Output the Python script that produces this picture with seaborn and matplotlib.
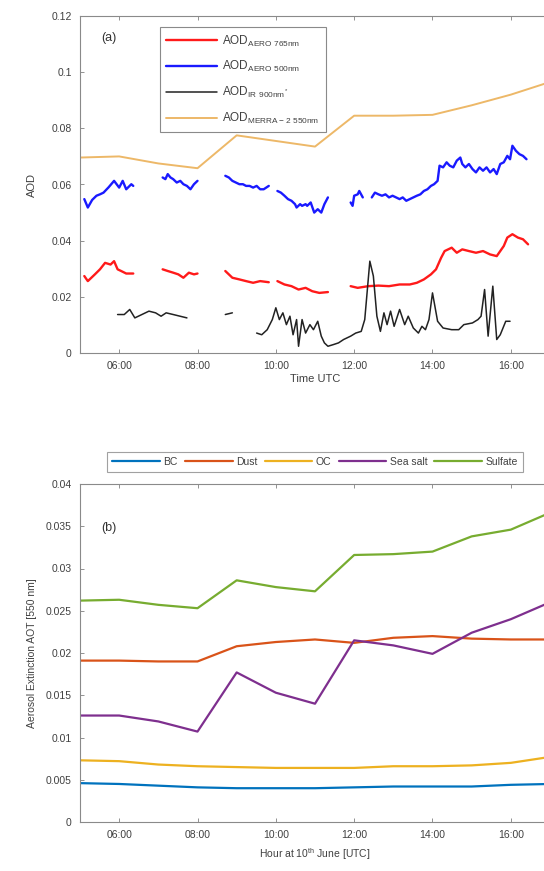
import numpy as np
import pandas as pd
import matplotlib
matplotlib.use("Agg")
import matplotlib.pyplot as plt
import seaborn as sns

# ---- panel (a): AOD time series, None marks a gap in the record ----
aero765_t = [5.11, 5.20, 5.29, 5.38, 5.51, 5.64, 5.78, 5.87, 5.96, 6.05, 6.18, 6.36, None,
             7.11, 7.24, 7.38, 7.51, 7.64, 7.78, 7.91, 8.00, None,
             8.71, 8.89, 9.07, 9.24, 9.42, 9.60, 9.82, None,
             10.04, 10.22, 10.40, 10.58, 10.76, 10.93, 11.11, 11.33, None,
             11.91, 12.09, 12.36, 12.62, 12.89, 13.16, 13.42, 13.60, 13.78, 13.96, 14.09, 14.22,
             14.31, 14.49, 14.62, 14.76, 14.93, 15.11, 15.29, 15.47, 15.64, 15.82, 15.91, 16.04,
             16.18, 16.31, 16.44]
aero765_v = [0.0274, 0.0256, 0.0268, 0.0280, 0.0298, 0.0321, 0.0315, 0.0327, 0.0298, 0.0292, 0.0283, 0.0283, None,
             0.0298, 0.0292, 0.0286, 0.0280, 0.0268, 0.0286, 0.0280, 0.0283, None,
             0.0292, 0.0268, 0.0262, 0.0256, 0.0250, 0.0256, 0.0252, None,
             0.0256, 0.0244, 0.0238, 0.0226, 0.0232, 0.0220, 0.0214, 0.0217, None,
             0.0238, 0.0232, 0.0238, 0.0240, 0.0238, 0.0244, 0.0244, 0.0250, 0.0262, 0.0280, 0.0298, 0.0339,
             0.0363, 0.0375, 0.0357, 0.0369, 0.0363, 0.0357, 0.0363, 0.0351, 0.0345, 0.0381, 0.0411, 0.0423,
             0.0411, 0.0405, 0.0387]

aero500_t = [5.11, 5.20, 5.31, 5.42, 5.51, 5.60, 5.73, 5.87, 6.00, 6.09, 6.18, 6.31, 6.36, None,
             7.11, 7.18, 7.24, 7.31, 7.38, 7.47, 7.56, 7.64, 7.73, 7.82, 7.91, 8.00, None,
             8.71, 8.80, 8.89, 8.98, 9.07, 9.16, 9.24, 9.33, 9.42, 9.51, 9.60, 9.69, 9.82, None,
             10.04, 10.13, 10.22, 10.31, 10.40, 10.49, 10.53, 10.62, 10.67, 10.76, 10.80, 10.89,
             10.98, 11.07, 11.16, 11.24, 11.33, None,
             11.91, 11.96, 12.00, 12.09, 12.13, 12.22, None,
             12.45, 12.53, 12.62, 12.71, 12.80, 12.89, 12.98, 13.07, 13.16, 13.24, 13.33, 13.42,
             13.51, 13.60, 13.69, 13.78, 13.87, 13.96, 14.04, 14.13, 14.18, 14.27, 14.36, 14.44,
             14.53, 14.62, 14.71, 14.76, 14.84, 14.93, 15.02, 15.11, 15.20, 15.29, 15.38, 15.47,
             15.56, 15.64, 15.73, 15.82, 15.91, 15.98, 16.04, 16.13, 16.22, 16.31, 16.40]
aero500_v = [0.0548, 0.0518, 0.0545, 0.0560, 0.0565, 0.0571, 0.0590, 0.0613, 0.0589, 0.0613, 0.0583, 0.0601, 0.0595, None,
             0.0625, 0.0619, 0.0637, 0.0625, 0.0619, 0.0607, 0.0613, 0.0601, 0.0595, 0.0583, 0.0601, 0.0613, None,
             0.0631, 0.0625, 0.0613, 0.0607, 0.0601, 0.0601, 0.0595, 0.0595, 0.0589, 0.0595, 0.0583, 0.0583, 0.0595, None,
             0.0577, 0.0571, 0.0560, 0.0548, 0.0542, 0.0530, 0.0518, 0.0530, 0.0524, 0.0530, 0.0524, 0.0536,
             0.0500, 0.0512, 0.0500, 0.0530, 0.0554, None,
             0.0536, 0.0524, 0.0560, 0.0565, 0.0577, 0.0554, None,
             0.0554, 0.0571, 0.0565, 0.0560, 0.0565, 0.0554, 0.0560, 0.0554, 0.0548, 0.0554, 0.0542, 0.0548,
             0.0554, 0.0560, 0.0565, 0.0577, 0.0583, 0.0595, 0.0601, 0.0613, 0.0667, 0.0661, 0.0679, 0.0667,
             0.0661, 0.0685, 0.0696, 0.0673, 0.0661, 0.0673, 0.0655, 0.0643, 0.0661, 0.0649, 0.0661, 0.0643,
             0.0655, 0.0637, 0.0673, 0.0679, 0.0702, 0.0690, 0.0738, 0.0720, 0.0708, 0.0702, 0.0690]

ir900_t = [5.96, 6.13, 6.27, 6.40, 6.58, 6.76, 6.93, 7.07, 7.20, 7.38, 7.73, None,
           8.71, 8.89, None,
           9.51, 9.64, 9.78, 9.91, 10.00, 10.09, 10.18, 10.27, 10.36, 10.44, 10.53, 10.58, 10.67,
           10.76, 10.87, 10.96, 11.07, 11.16, 11.24, 11.33, 11.47, 11.60, 11.73, 11.91, 12.04,
           12.18, 12.27, 12.40, 12.49, 12.58, 12.67, 12.76, 12.84, 12.93, 13.02, 13.16, 13.29,
           13.38, 13.51, 13.64, 13.73, 13.82, 13.91, 14.00, 14.13, 14.27, 14.49, 14.67, 14.80,
           15.02, 15.16, 15.24, 15.33, 15.42, 15.54, 15.64, 15.73, 15.87, 15.98]
ir900_v = [0.0137, 0.0137, 0.0155, 0.0125, 0.0137, 0.0149, 0.0143, 0.0131, 0.0143, 0.0137, 0.0125, None,
           0.0137, 0.0143, None,
           0.0071, 0.0065, 0.0083, 0.0119, 0.0161, 0.0119, 0.0143, 0.0101, 0.0131, 0.0065, 0.0119, 0.0024, 0.0119,
           0.0071, 0.0101, 0.0083, 0.0113, 0.0060, 0.0036, 0.0024, 0.0030, 0.0036, 0.0048, 0.0060, 0.0071,
           0.0077, 0.0119, 0.0327, 0.0274, 0.0131, 0.0077, 0.0143, 0.0101, 0.0149, 0.0095, 0.0155, 0.0101,
           0.0131, 0.0089, 0.0071, 0.0095, 0.0083, 0.0119, 0.0214, 0.0113, 0.0089, 0.0083, 0.0083, 0.0101,
           0.0107, 0.0119, 0.0131, 0.0226, 0.0060, 0.0238, 0.0048, 0.0065, 0.0113, 0.0113]

merra_t = [5, 6, 7, 8, 9, 10, 11, 12, 13, 14, 15, 16, 17]
merra_v = [0.0696, 0.0700, 0.0675, 0.0658, 0.0775, 0.0755, 0.0735, 0.0845, 0.0845, 0.0848, 0.0882, 0.0920, 0.0965]

# ---- panel (b): MERRA-2 speciated AOT, hourly ----
hours = [5, 6, 7, 8, 9, 10, 11, 12, 13, 14, 15, 16, 17]
bc = [0.0046, 0.0045, 0.0043, 0.0041, 0.0040, 0.0040, 0.0040, 0.0041, 0.0042, 0.0042, 0.0042, 0.0044, 0.0045]
dust = [0.0191, 0.0191, 0.0190, 0.0190, 0.0208, 0.0213, 0.0216, 0.0212, 0.0218, 0.0220, 0.0217, 0.0216, 0.0216]
oc = [0.0073, 0.0072, 0.0068, 0.0066, 0.0065, 0.0064, 0.0064, 0.0064, 0.0066, 0.0066, 0.0067, 0.0070, 0.0077]
sea_salt = [0.0126, 0.0126, 0.0119, 0.0107, 0.0177, 0.0153, 0.0140, 0.0215, 0.0209, 0.0199, 0.0224, 0.0240, 0.0260]
sulfate = [0.0262, 0.0263, 0.0257, 0.0253, 0.0286, 0.0278, 0.0273, 0.0316, 0.0317, 0.0320, 0.0338, 0.0346, 0.0366]

hour_ticks = [6, 8, 10, 12, 14, 16]
hour_labels = ["06:00", "08:00", "10:00", "12:00", "14:00", "16:00"]
aod_ticks = [0, 0.02, 0.04, 0.06, 0.08, 0.1, 0.12]
aod_labels = ["0", "0.02", "0.04", "0.06", "0.08", "0.1", "0.12"]
aot_ticks = [0, 0.005, 0.01, 0.015, 0.02, 0.025, 0.03, 0.035, 0.04]
aot_labels = ["0", "0.005", "0.01", "0.015", "0.02", "0.025", "0.03", "0.035", "0.04"]


def to_frame(t, v, name):
    # split a None-separated list into segments
    rows = []
    seg = 0
    for ti, vi in zip(t, v):
        if ti is None:
            seg += 1
            continue
        rows.append((ti, vi, name, f"{name}-{seg}"))
    return pd.DataFrame(rows, columns=["time", "aod", "series", "seg"])


sns.set_theme(style="white")
plt.rcParams["font.family"] = ["Liberation Sans", "DejaVu Sans"]
plt.rcParams["mathtext.fontset"] = "custom"
plt.rcParams["mathtext.rm"] = "Liberation Sans"

lab_r = r"AOD$_{\mathrm{AERO\ 765nm}}$"
lab_b = r"AOD$_{\mathrm{AERO\ 500nm}}$"
lab_k = r"AOD$_{\mathrm{IR\ 900nm^*}}$"
lab_m = r"AOD$_{\mathrm{MERRA-2\ 550nm}}$"

df_a = pd.concat([
    to_frame(aero765_t, aero765_v, lab_r),
    to_frame(aero500_t, aero500_v, lab_b),
    to_frame(ir900_t, ir900_v, lab_k),
    to_frame(merra_t, merra_v, lab_m),
], ignore_index=True)

df_b = pd.DataFrame({"hour": hours, "BC": bc, "Dust": dust, "OC": oc,
                     "Sea salt": sea_salt, "Sulfate": sulfate})
df_b = df_b.melt(id_vars="hour", var_name="species", value_name="aot")

W, H = 544, 871
fig = plt.figure(figsize=(W / 100, H / 100), dpi=100)
ax1 = fig.add_axes([80 / W, 1 - 353 / H, 470 / W, 337 / H])
ax2 = fig.add_axes([80 / W, 1 - 822 / H, 470 / W, 338 / H])

pal_a = {lab_r: "#ff1a1a", lab_b: "#1a1aff", lab_k: "#222222", lab_m: "#EDB868"}
lw_a = {lab_r: 1.7, lab_b: 1.7, lab_k: 1.1, lab_m: 1.4}
for name in [lab_r, lab_b, lab_k, lab_m]:
    sub = df_a[df_a["series"] == name]
    sns.lineplot(data=sub, x="time", y="aod", units="seg", estimator=None,
                 color=pal_a[name], lw=lw_a[name], label=name, ax=ax1, sort=False)

pal_b = {"BC": "#0072BD", "Dust": "#D95319", "OC": "#EDB120",
         "Sea salt": "#7E2F8E", "Sulfate": "#77AC30"}
sns.lineplot(data=df_b, x="hour", y="aot", hue="species", palette=pal_b,
             lw=1.6, ax=ax2)

tick_col = "#404040"
for ax in (ax1, ax2):
    ax.set_xlim(5, 17)
    ax.set_xticks(hour_ticks)
    ax.set_xticklabels(hour_labels)
    ax.tick_params(axis="both", direction="in", length=3, width=0.6, color="#808080",
                   labelsize=7.5, labelcolor=tick_col, pad=6, top=True, bottom=True, left=True)
    for s in ax.spines.values():
        s.set_color("#8a8a8a")
        s.set_linewidth(0.8)

ax1.set_ylim(0, 0.12)
ax1.set_yticks(aod_ticks)
ax1.set_yticklabels(aod_labels)
ax1.set_xlabel("Time UTC", fontsize=8, color=tick_col, labelpad=2)
ax1.set_ylabel("AOD", fontsize=8, color=tick_col, labelpad=10)
ax1.text(0.045, 0.925, "(a)", transform=ax1.transAxes, fontsize=9, color="#333333")

# one legend entry per series (each gap-separated segment carries the label)
h, l = ax1.get_legend_handles_labels()
uniq = {}
for hi, li in zip(h, l):
    uniq.setdefault(li, hi)
leg1 = ax1.legend(list(uniq.values()), list(uniq.keys()), loc="upper left",
                  bbox_to_anchor=(0.17, 0.967), borderaxespad=0,
                  fontsize=8.5, handlelength=4.3, labelspacing=0.9, frameon=True,
                  fancybox=False, edgecolor="#8a8a8a", facecolor="white", framealpha=1,
                  borderpad=0.55, handletextpad=0.4)
leg1.get_frame().set_linewidth(0.8)
for t in leg1.get_texts():
    t.set_color(tick_col)

ax2.set_ylim(0, 0.04)
ax2.set_yticks(aot_ticks)
ax2.set_yticklabels(aot_labels)
ax2.set_xlabel(r"Hour at 10$^{\mathrm{th}}$ June [UTC]", fontsize=7.5, color=tick_col, labelpad=4)
ax2.set_ylabel("Aerosol Extinction AOT [550 nm]", fontsize=7.5, color=tick_col, labelpad=6)
ax2.text(0.045, 0.86, "(b)", transform=ax2.transAxes, fontsize=9, color="#333333")
h, l = ax2.get_legend_handles_labels()
leg2 = ax2.legend(h, l, loc="lower center", bbox_to_anchor=(0.5, 1.036), borderaxespad=0,
                  ncol=5, fontsize=7.5, handlelength=4.6, columnspacing=0.7, handletextpad=0.3,
                  frameon=True, fancybox=False, edgecolor="#8a8a8a", borderpad=0.45)
leg2.get_frame().set_linewidth(0.8)
for t in leg2.get_texts():
    t.set_color(tick_col)

fig.savefig("out.png", dpi=100)
